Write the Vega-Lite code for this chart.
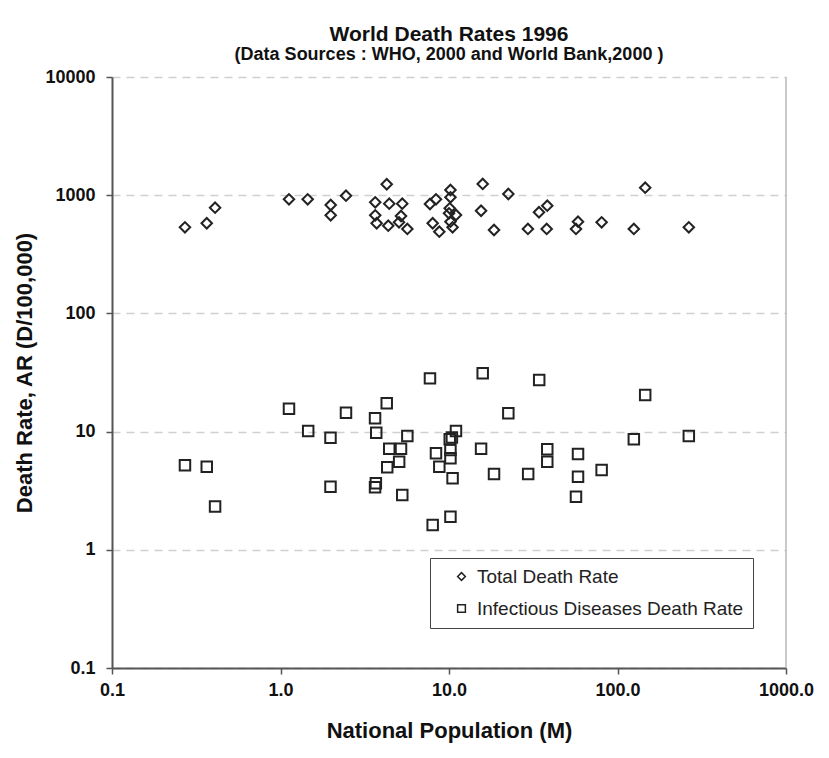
{
  "$schema": "https://vega.github.io/schema/vega-lite/v6.json",
  "width": 674,
  "height": 591,
  "autosize": "none",
  "padding": {"left": 112, "top": 77, "right": 43, "bottom": 90},
  "background": "white",
  "config": {"view": {"stroke": null}, "font": "Liberation Sans"},
  "title": {
    "text": "World Death Rates 1996",
    "subtitle": "(Data Sources : WHO, 2000 and World Bank,2000 )",
    "fontSize": 21,
    "subtitleFontSize": 18,
    "font": "Liberation Sans",
    "subtitleFont": "Liberation Sans",
    "fontWeight": "bold",
    "subtitleFontWeight": "bold",
    "color": "#111",
    "subtitleColor": "#111",
    "offset": 4,
    "subtitlePadding": 1
  },
  "layer": [
    {
      "data": {"values": [{}]},
      "mark": {"type": "rule", "color": "#b8b8b8", "strokeWidth": 1.5},
      "encoding": {"x": {"datum": 1000, "type": "quantitative"}}
    },
    {
      "data": {
        "values": [
          {"pop": 0.271, "rate": 535, "series": "Total Death Rate"},
          {"pop": 0.365, "rate": 579, "series": "Total Death Rate"},
          {"pop": 0.409, "rate": 784, "series": "Total Death Rate"},
          {"pop": 1.123, "rate": 923, "series": "Total Death Rate"},
          {"pop": 1.45, "rate": 923, "series": "Total Death Rate"},
          {"pop": 1.986, "rate": 826, "series": "Total Death Rate"},
          {"pop": 1.986, "rate": 676, "series": "Total Death Rate"},
          {"pop": 2.447, "rate": 990, "series": "Total Death Rate"},
          {"pop": 3.65, "rate": 871, "series": "Total Death Rate"},
          {"pop": 4.42, "rate": 848, "series": "Total Death Rate"},
          {"pop": 5.28, "rate": 848, "series": "Total Death Rate"},
          {"pop": 4.27, "rate": 1237, "series": "Total Death Rate"},
          {"pop": 3.65, "rate": 676, "series": "Total Death Rate"},
          {"pop": 3.72, "rate": 579, "series": "Total Death Rate"},
          {"pop": 4.36, "rate": 552, "series": "Total Death Rate"},
          {"pop": 5.19, "rate": 667, "series": "Total Death Rate"},
          {"pop": 5.05, "rate": 590, "series": "Total Death Rate"},
          {"pop": 5.66, "rate": 518, "series": "Total Death Rate"},
          {"pop": 7.71, "rate": 843, "series": "Total Death Rate"},
          {"pop": 8.37, "rate": 923, "series": "Total Death Rate"},
          {"pop": 8.0, "rate": 579, "series": "Total Death Rate"},
          {"pop": 8.76, "rate": 491, "series": "Total Death Rate"},
          {"pop": 10.2, "rate": 1106, "series": "Total Death Rate"},
          {"pop": 10.2, "rate": 960, "series": "Total Death Rate"},
          {"pop": 10.1, "rate": 775, "series": "Total Death Rate"},
          {"pop": 10.0, "rate": 703, "series": "Total Death Rate"},
          {"pop": 11.0, "rate": 680, "series": "Total Death Rate"},
          {"pop": 10.2, "rate": 597, "series": "Total Death Rate"},
          {"pop": 10.5, "rate": 535, "series": "Total Death Rate"},
          {"pop": 15.85, "rate": 1245, "series": "Total Death Rate"},
          {"pop": 15.5, "rate": 739, "series": "Total Death Rate"},
          {"pop": 22.5, "rate": 1024, "series": "Total Death Rate"},
          {"pop": 18.5, "rate": 508, "series": "Total Death Rate"},
          {"pop": 29.4, "rate": 518, "series": "Total Death Rate"},
          {"pop": 34.2, "rate": 717, "series": "Total Death Rate"},
          {"pop": 38.3, "rate": 815, "series": "Total Death Rate"},
          {"pop": 38.0, "rate": 518, "series": "Total Death Rate"},
          {"pop": 58.3, "rate": 597, "series": "Total Death Rate"},
          {"pop": 56.7, "rate": 518, "series": "Total Death Rate"},
          {"pop": 80.5, "rate": 590, "series": "Total Death Rate"},
          {"pop": 125, "rate": 518, "series": "Total Death Rate"},
          {"pop": 146, "rate": 1157, "series": "Total Death Rate"},
          {"pop": 265, "rate": 535, "series": "Total Death Rate"},
          {"pop": 0.271, "rate": 5.19, "series": "Infectious Diseases Death Rate"},
          {"pop": 0.365, "rate": 5.05, "series": "Infectious Diseases Death Rate"},
          {"pop": 0.409, "rate": 2.32, "series": "Infectious Diseases Death Rate"},
          {"pop": 1.123, "rate": 15.6, "series": "Infectious Diseases Death Rate"},
          {"pop": 1.46, "rate": 10.1, "series": "Infectious Diseases Death Rate"},
          {"pop": 1.98, "rate": 8.88, "series": "Infectious Diseases Death Rate"},
          {"pop": 1.98, "rate": 3.42, "series": "Infectious Diseases Death Rate"},
          {"pop": 2.447, "rate": 14.45, "series": "Infectious Diseases Death Rate"},
          {"pop": 3.64, "rate": 12.96, "series": "Infectious Diseases Death Rate"},
          {"pop": 3.7, "rate": 9.79, "series": "Infectious Diseases Death Rate"},
          {"pop": 4.27, "rate": 17.35, "series": "Infectious Diseases Death Rate"},
          {"pop": 5.66, "rate": 9.18, "series": "Infectious Diseases Death Rate"},
          {"pop": 4.42, "rate": 7.17, "series": "Infectious Diseases Death Rate"},
          {"pop": 5.19, "rate": 7.17, "series": "Infectious Diseases Death Rate"},
          {"pop": 5.06, "rate": 5.56, "series": "Infectious Diseases Death Rate"},
          {"pop": 4.3, "rate": 4.99, "series": "Infectious Diseases Death Rate"},
          {"pop": 3.68, "rate": 3.65, "series": "Infectious Diseases Death Rate"},
          {"pop": 3.64, "rate": 3.38, "series": "Infectious Diseases Death Rate"},
          {"pop": 5.28, "rate": 2.91, "series": "Infectious Diseases Death Rate"},
          {"pop": 7.71, "rate": 28.2, "series": "Infectious Diseases Death Rate"},
          {"pop": 8.37, "rate": 6.55, "series": "Infectious Diseases Death Rate"},
          {"pop": 8.76, "rate": 5.05, "series": "Infectious Diseases Death Rate"},
          {"pop": 8.0, "rate": 1.62, "series": "Infectious Diseases Death Rate"},
          {"pop": 15.85, "rate": 31.1, "series": "Infectious Diseases Death Rate"},
          {"pop": 34.3, "rate": 27.3, "series": "Infectious Diseases Death Rate"},
          {"pop": 146, "rate": 20.4, "series": "Infectious Diseases Death Rate"},
          {"pop": 22.5, "rate": 14.3, "series": "Infectious Diseases Death Rate"},
          {"pop": 11.0, "rate": 10.1, "series": "Infectious Diseases Death Rate"},
          {"pop": 10.1, "rate": 8.6, "series": "Infectious Diseases Death Rate"},
          {"pop": 10.4, "rate": 8.9, "series": "Infectious Diseases Death Rate"},
          {"pop": 10.2, "rate": 6.99, "series": "Infectious Diseases Death Rate"},
          {"pop": 10.2, "rate": 5.94, "series": "Infectious Diseases Death Rate"},
          {"pop": 10.5, "rate": 4.03, "series": "Infectious Diseases Death Rate"},
          {"pop": 15.5, "rate": 7.17, "series": "Infectious Diseases Death Rate"},
          {"pop": 18.5, "rate": 4.38, "series": "Infectious Diseases Death Rate"},
          {"pop": 29.5, "rate": 4.38, "series": "Infectious Diseases Death Rate"},
          {"pop": 38.3, "rate": 7.08, "series": "Infectious Diseases Death Rate"},
          {"pop": 38.3, "rate": 5.56, "series": "Infectious Diseases Death Rate"},
          {"pop": 58.3, "rate": 6.46, "series": "Infectious Diseases Death Rate"},
          {"pop": 58.3, "rate": 4.15, "series": "Infectious Diseases Death Rate"},
          {"pop": 56.7, "rate": 2.81, "series": "Infectious Diseases Death Rate"},
          {"pop": 80.5, "rate": 4.73, "series": "Infectious Diseases Death Rate"},
          {"pop": 125, "rate": 8.6, "series": "Infectious Diseases Death Rate"},
          {"pop": 265, "rate": 9.18, "series": "Infectious Diseases Death Rate"},
          {"pop": 10.2, "rate": 1.9, "series": "Infectious Diseases Death Rate"}
        ]
      },
      "mark": {"type": "point", "filled": false, "strokeWidth": 2, "size": 110, "color": "#222", "opacity": 1},
      "encoding": {
        "x": {
          "field": "pop",
          "type": "quantitative",
          "scale": {"type": "log", "domain": [0.1, 1000], "nice": false},
          "axis": {
            "title": "National Population (M)",
            "values": [0.1, 1, 10, 100, 1000],
            "format": ".1f",
            "grid": false,
            "domainColor": "#555",
            "domainWidth": 2,
            "tickColor": "#555",
            "tickSize": 6,
            "tickWidth": 1.5,
            "labelFontSize": 18,
            "labelFontWeight": "bold",
            "labelColor": "#111",
            "labelPadding": 7,
            "labelFlush": false,
            "titleFontSize": 22,
            "titleFontWeight": "bold",
            "titleColor": "#111",
            "titlePadding": 21
          }
        },
        "y": {
          "field": "rate",
          "type": "quantitative",
          "scale": {"type": "log", "domain": [0.1, 10000], "nice": false},
          "axis": {
            "title": "Death Rate, AR (D/100,000)",
            "values": [0.1, 1, 10, 100, 1000, 10000],
            "labelExpr": "datum.value < 1 ? '0.1' : format(datum.value, 'd')",
            "grid": true,
            "gridDash": [8, 6],
            "gridColor": "#d0d0d0",
            "gridWidth": 1.5,
            "domainColor": "#555",
            "domainWidth": 2,
            "tickColor": "#555",
            "tickSize": 6,
            "tickWidth": 1.5,
            "labelFontSize": 18,
            "labelFontWeight": "bold",
            "labelColor": "#111",
            "labelPadding": 11,
            "labelFlush": false,
            "titleFontSize": 22,
            "titleFontWeight": "bold",
            "titleColor": "#111",
            "titlePadding": 8
          }
        },
        "shape": {
          "field": "series",
          "type": "nominal",
          "scale": {
            "domain": ["Total Death Rate", "Infectious Diseases Death Rate"],
            "range": ["diamond", "square"]
          },
          "legend": {
            "title": null,
            "orient": "none",
            "legendX": 318,
            "legendY": 481,
            "strokeColor": "#444",
            "fillColor": "white",
            "padding": 9,
            "symbolOffset": 13,
            "labelOffset": 6,
            "rowPadding": 12,
            "symbolSize": 60,
            "symbolStrokeWidth": 1.5,
            "symbolStrokeColor": "#222",
            "symbolFillColor": "transparent",
            "labelFontSize": 19,
            "labelColor": "#222",
            "labelLimit": 400
          }
        }
      }
    }
  ]
}
